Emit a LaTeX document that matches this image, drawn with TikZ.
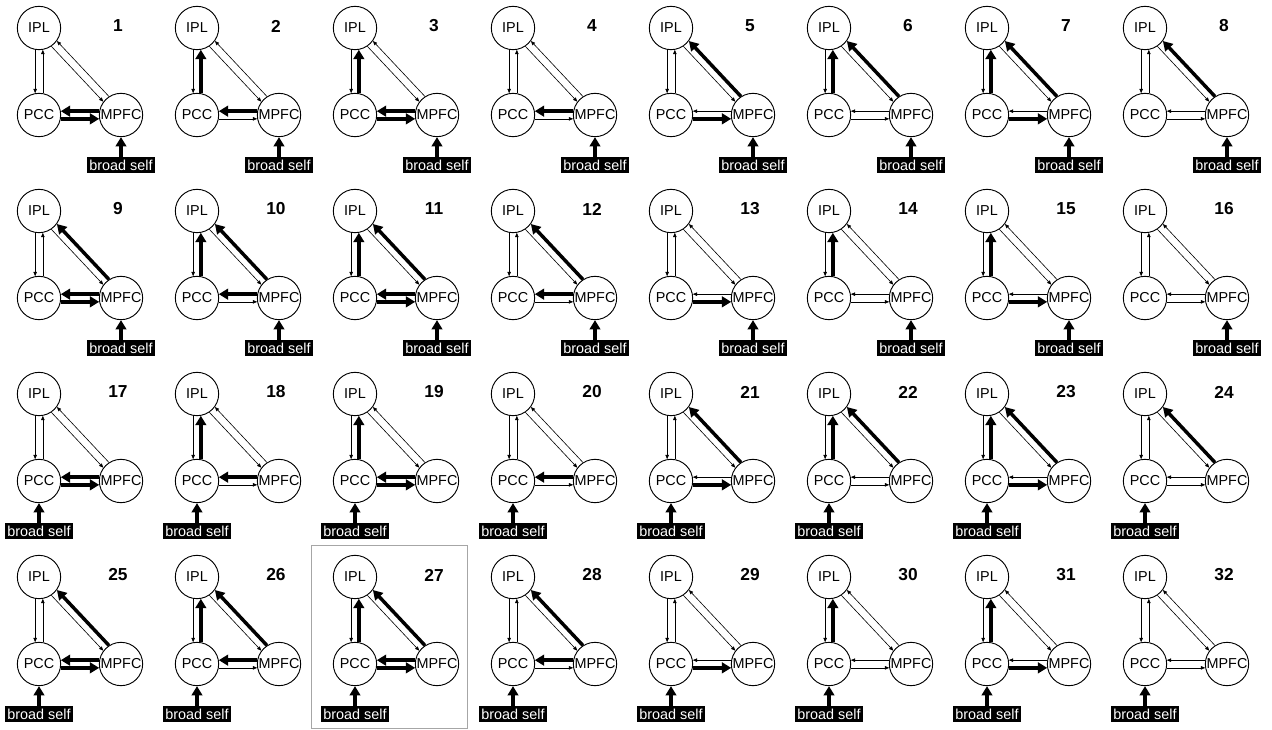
\documentclass[tikz,border=0pt]{standalone}
\usepackage{fontspec}
\setmainfont{Liberation Sans}
\usetikzlibrary{arrows.meta,positioning}

\tikzset{
  roi/.style={circle,draw,line width=0.7pt,minimum size=32.5pt,inner sep=0pt,font=\fontsize{10.8}{12}\selectfont},
  modelnum/.style={font=\fontsize{13}{14}\selectfont\bfseries},
  selfbox/.style={fill=black,text=white,inner xsep=1.6pt,inner ysep=0pt,minimum height=12pt,font=\fontsize{10.8}{12}\selectfont},
  thinlink/.style={line width=0.45pt,-{Triangle[length=3.2pt,width=2.6pt]}},
  boldlink/.style={line width=2.6pt,-{Triangle[length=7pt,width=8pt]}},
}

% one model: number, x, y, PCC->IPL, MPFC->IPL, PCC->MPFC, MPFC->PCC, input region
\newcommand{\drawmodel}[8]{%
  \begin{scope}[shift={(#2,#3)}]
    % regions
    \node[roi] (ipl#1) at (0,0) {\makebox[0pt]{IPL}};
    \node[roi] (pcc#1) at (0,87) {\makebox[0pt]{PCC}};
    \node[roi] (mpfc#1) at (82,87) {\makebox[0pt]{MPFC}};
    \node[modelnum] (num#1) at (79,-2) {#1};
    % driving input
    \node[selfbox,below=15pt of #8#1] (in#1) {broad self};
    % connections
    \draw[thinlink] (ipl#1.-100) -- (pcc#1.100);
    \draw[#4] (pcc#1.80) -- (ipl#1.-80);
    \draw[thinlink] (ipl#1.-56.7) -- (mpfc#1.143.3);
    \draw[#5] (mpfc#1.123.3) -- (ipl#1.-36.7);
    \draw[#6] (pcc#1.-10) -- (mpfc#1.190);
    \draw[#7] (mpfc#1.170) -- (pcc#1.10);
    \draw[boldlink] (in#1) -- (#8#1);
  \end{scope}}

\begin{document}
\begin{tikzpicture}[x=0.75pt,y=-0.75pt]
  \useasboundingbox (0,0) rectangle (1272,729);

  % input to MPFC
  \drawmodel{1}{39}{28}{thinlink}{thinlink}{boldlink}{boldlink}{mpfc}
  \drawmodel{2}{197}{28}{boldlink}{thinlink}{thinlink}{boldlink}{mpfc}
  \drawmodel{3}{355}{28}{boldlink}{thinlink}{boldlink}{boldlink}{mpfc}
  \drawmodel{4}{513}{28}{thinlink}{thinlink}{thinlink}{boldlink}{mpfc}
  \drawmodel{5}{671}{28}{thinlink}{boldlink}{boldlink}{thinlink}{mpfc}
  \drawmodel{6}{829}{28}{boldlink}{boldlink}{thinlink}{thinlink}{mpfc}
  \drawmodel{7}{987}{28}{boldlink}{boldlink}{boldlink}{thinlink}{mpfc}
  \drawmodel{8}{1145}{28}{thinlink}{boldlink}{thinlink}{thinlink}{mpfc}

  \drawmodel{9}{39}{211}{thinlink}{boldlink}{boldlink}{boldlink}{mpfc}
  \drawmodel{10}{197}{211}{boldlink}{boldlink}{thinlink}{boldlink}{mpfc}
  \drawmodel{11}{355}{211}{boldlink}{boldlink}{boldlink}{boldlink}{mpfc}
  \drawmodel{12}{513}{211}{thinlink}{boldlink}{thinlink}{boldlink}{mpfc}
  \drawmodel{13}{671}{211}{thinlink}{thinlink}{boldlink}{thinlink}{mpfc}
  \drawmodel{14}{829}{211}{boldlink}{thinlink}{thinlink}{thinlink}{mpfc}
  \drawmodel{15}{987}{211}{boldlink}{thinlink}{boldlink}{thinlink}{mpfc}
  \drawmodel{16}{1145}{211}{thinlink}{thinlink}{thinlink}{thinlink}{mpfc}

  % input to PCC
  \drawmodel{17}{39}{394}{thinlink}{thinlink}{boldlink}{boldlink}{pcc}
  \drawmodel{18}{197}{394}{boldlink}{thinlink}{thinlink}{boldlink}{pcc}
  \drawmodel{19}{355}{394}{boldlink}{thinlink}{boldlink}{boldlink}{pcc}
  \drawmodel{20}{513}{394}{thinlink}{thinlink}{thinlink}{boldlink}{pcc}
  \drawmodel{21}{671}{394}{thinlink}{boldlink}{boldlink}{thinlink}{pcc}
  \drawmodel{22}{829}{394}{boldlink}{boldlink}{thinlink}{thinlink}{pcc}
  \drawmodel{23}{987}{394}{boldlink}{boldlink}{boldlink}{thinlink}{pcc}
  \drawmodel{24}{1145}{394}{thinlink}{boldlink}{thinlink}{thinlink}{pcc}

  \drawmodel{25}{39}{577}{thinlink}{boldlink}{boldlink}{boldlink}{pcc}
  \drawmodel{26}{197}{577}{boldlink}{boldlink}{thinlink}{boldlink}{pcc}
  \drawmodel{27}{355}{577}{boldlink}{boldlink}{boldlink}{boldlink}{pcc}
  \drawmodel{28}{513}{577}{thinlink}{boldlink}{thinlink}{boldlink}{pcc}
  \drawmodel{29}{671}{577}{thinlink}{thinlink}{boldlink}{thinlink}{pcc}
  \drawmodel{30}{829}{577}{boldlink}{thinlink}{thinlink}{thinlink}{pcc}
  \drawmodel{31}{987}{577}{boldlink}{thinlink}{boldlink}{thinlink}{pcc}
  \drawmodel{32}{1145}{577}{thinlink}{thinlink}{thinlink}{thinlink}{pcc}

  % highlighted model
  \draw[gray!70,line width=0.6pt] (311,545) rectangle (467,728);
\end{tikzpicture}
\end{document}
